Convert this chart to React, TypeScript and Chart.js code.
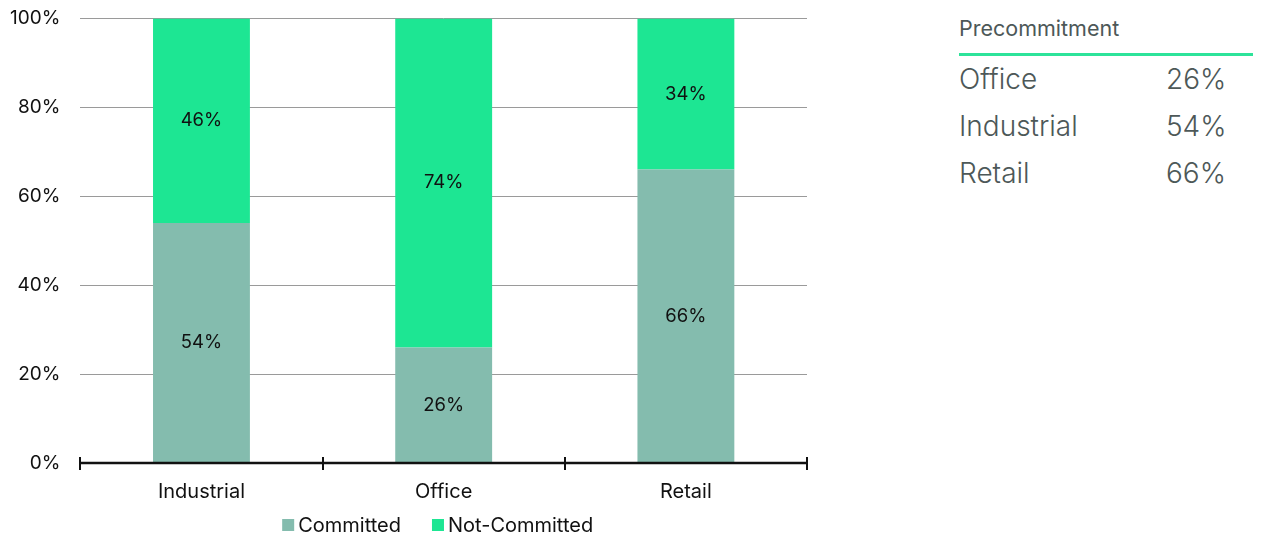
import React, { useEffect, useRef } from "react";
import { Chart, registerables } from "chart.js";

Chart.register(...registerables);

const categories = ["Industrial", "Office", "Retail"];
const committed = [54, 26, 66];
const notCommitted = [46, 74, 34];
const yTicks = [0, 20, 40, 60, 80, 100];
const tableTitle = "Precommitment";
const tableLabels = ["Office", "Industrial", "Retail"];
const tableValues = ["26%", "54%", "66%"];

const COMMITTED_COLOR = "#84bcae";
const NOT_COMMITTED_COLOR = "#1de693";
const FONT = "Inter, 'Noto Sans', sans-serif";

const segLabels = {
  id: "segLabels",
  afterDatasetsDraw(chart: any) {
    const ctx = chart.ctx;
    ctx.save();
    ctx.font = `18.5px ${FONT}`;
    ctx.fillStyle = "#111";
    ctx.textAlign = "center";
    ctx.textBaseline = "middle";
    chart.data.datasets.forEach((ds: any, di: number) => {
      const meta = chart.getDatasetMeta(di);
      meta.data.forEach((bar: any, i: number) => {
        const y = (bar.y + bar.base) / 2;
        ctx.fillText(ds.data[i] + "%", bar.x, y);
      });
    });
    ctx.restore();
  },
};

const axisTicks = {
  id: "axisTicks",
  afterDraw(chart: any) {
    const ctx = chart.ctx;
    const area = chart.chartArea;
    const n = chart.data.labels.length;
    const w = (area.right - area.left) / n;
    ctx.save();
    ctx.strokeStyle = "#111";
    ctx.lineWidth = 2.5;
    ctx.beginPath();
    ctx.moveTo(area.left, area.bottom);
    ctx.lineTo(area.right, area.bottom);
    ctx.stroke();
    ctx.lineWidth = 2;
    for (let i = 0; i <= n; i++) {
      const x = Math.round(area.left + i * w);
      ctx.beginPath();
      ctx.moveTo(x, area.bottom - 6);
      ctx.lineTo(x, area.bottom + 7);
      ctx.stroke();
    }
    ctx.restore();
  },
};

const customLegend = {
  id: "customLegend",
  afterDraw(chart: any) {
    const ctx = chart.ctx;
    const area = chart.chartArea;
    const y = area.bottom + 62;
    ctx.save();
    ctx.font = `20px ${FONT}`;
    ctx.textBaseline = "middle";
    ctx.textAlign = "left";
    const box = 12;
    const gapBoxText = 4;
    const gapItems = 31;
    const items = chart.data.datasets.map((ds: any) => ({
      label: ds.label,
      color: ds.backgroundColor,
      w: ctx.measureText(ds.label).width,
    }));
    const total =
      items.reduce((s: number, it: any) => s + box + gapBoxText + it.w, 0) + gapItems * (items.length - 1);
    let x = (area.left + area.right) / 2 - 6 - total / 2;
    items.forEach((it: any) => {
      ctx.fillStyle = it.color;
      ctx.fillRect(x, y - box / 2, box, box);
      x += box + gapBoxText;
      ctx.fillStyle = "#111";
      ctx.fillText(it.label, x, y + 1);
      x += it.w + gapItems;
    });
    ctx.restore();
  },
};

function BarChart() {
  const ref = useRef<HTMLCanvasElement | null>(null);
  useEffect(() => {
    if (!ref.current) return;
    const chart = new Chart(ref.current, {
      type: "bar",
      data: {
        labels: categories,
        datasets: [
          { label: "Committed", data: committed, backgroundColor: COMMITTED_COLOR, barPercentage: 0.4, categoryPercentage: 1 },
          { label: "Not-Committed", data: notCommitted, backgroundColor: NOT_COMMITTED_COLOR, barPercentage: 0.4, categoryPercentage: 1 },
        ],
      },
      options: {
        animation: false,
        responsive: false,
        layout: { padding: { left: 0, right: 13, top: 0, bottom: 28 } },
        plugins: {
          legend: { display: false },
          tooltip: { enabled: false },
        },
        scales: {
          x: {
            stacked: true,
            grid: { display: false },
            border: { display: false },
            ticks: { color: "#111", font: { size: 20, family: FONT }, padding: 9 },
          },
          y: {
            stacked: true,
            min: 0,
            max: 100,
            afterBuildTicks(scale: any) {
              scale.ticks = yTicks.map((v) => ({ value: v }));
            },
            grid: { color: "#9a9a9a", lineWidth: 1, drawTicks: false },
            border: { display: false },
            ticks: { color: "#111", font: { size: 19, family: FONT }, padding: 20, callback: (v: any) => v + "%" },
          },
        },
      },
      plugins: [segLabels, axisTicks, customLegend],
    });
    return () => chart.destroy();
  }, []);
  return (
    <canvas
      ref={ref}
      width={830}
      height={554}
      style={{ display: "block", position: "absolute", left: -18, top: -21 }}
    />
  );
}

export default function App() {
  useEffect(() => {
    const prev = document.body.style.overflow;
    document.body.style.overflow = "hidden";
    return () => {
      document.body.style.overflow = prev;
    };
  }, []);
  return (
    <div style={{ position: "relative", width: 1253, height: 525, fontFamily: FONT, overflow: "hidden" }}>
      <BarChart />
      <div style={{ position: "absolute", left: 951, top: 0, width: 302 }}>
        <div style={{ fontSize: 21.5, color: "#4d5858", lineHeight: "24px", paddingTop: 8, paddingBottom: 13 }}>{tableTitle}</div>
        <div style={{ height: 3, background: "#2de39a" }} />
        {tableLabels.map((l, i) => (
          <div key={l} style={{ display: "flex", fontSize: 28, fontWeight: 300, color: "#4d5858", lineHeight: "47px" }}>
            <span style={{ width: 207 }}>{l}</span>
            <span>{tableValues[i]}</span>
          </div>
        ))}
      </div>
    </div>
  );
}
